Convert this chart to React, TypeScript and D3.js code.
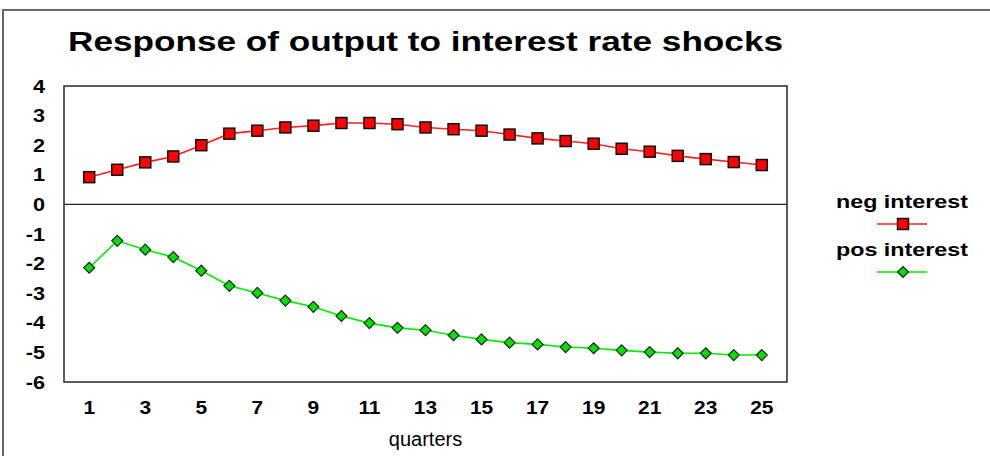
import React from "react";
import * as d3 from "d3";

const quarters: number[] = d3.range(1, 26);
const negInterest: number[] = [0.92, 1.17, 1.42, 1.62, 2.0, 2.39, 2.49, 2.6, 2.66, 2.75, 2.75, 2.71, 2.6, 2.54, 2.49, 2.36, 2.23, 2.14, 2.05, 1.88, 1.78, 1.64, 1.53, 1.43, 1.33];
const posInterest: number[] = [-2.14, -1.23, -1.53, -1.78, -2.24, -2.75, -2.99, -3.25, -3.46, -3.77, -4.01, -4.17, -4.25, -4.42, -4.56, -4.67, -4.73, -4.82, -4.86, -4.93, -4.99, -5.03, -5.03, -5.09, -5.09];
const yTicks: number[] = [4, 3, 2, 1, 0, -1, -2, -3, -4, -5, -6];
const xTickLabels: number[] = [1, 3, 5, 7, 9, 11, 13, 15, 17, 19, 21, 23, 25];
const seriesNames: string[] = ["neg interest", "pos interest"];
const title = "Response of output to interest rate shocks";
const xTitle = "quarters";

const W = 990;
const H = 456;
const PL = 64, PR = 787, PT = 86, PB = 382;
const FONT = "'Liberation Sans', Arial, sans-serif";

export default function App() {
  const x = d3.scalePoint<number>().domain(quarters).range([PL, PR]).padding(0.9);
  const y = d3.scaleLinear().domain([-6, 4]).range([PB, PT]);
  const line = d3
    .line<number>()
    .x((_, i) => x(quarters[i]) as number)
    .y((d) => y(d));

  const diamond = (cx: number, cy: number, r: number) =>
    `M${cx},${cy - r}L${cx + r},${cy}L${cx},${cy + r}L${cx - r},${cy}Z`;

  const legendItems = [
    { name: seriesNames[0], color: "#ff2020", baseline: 208, lineY: 224, kind: "square" },
    { name: seriesNames[1], color: "#00ee00", baseline: 256, lineY: 272, kind: "diamond" },
  ];

  return (
    <div style={{ position: "fixed", left: 0, top: 0 }}>
      <svg width={W} height={H} style={{ display: "block", background: "#fff" }}>
        {/* outer border */}
        <rect x={3} y={10} width={1000} height={500} fill="none" stroke="#666" strokeWidth={2} />

        {/* title */}
        <text
          x={68}
          y={51}
          fontFamily={FONT}
          fontWeight="bold"
          fontSize={27}
          textLength={715}
          lengthAdjust="spacingAndGlyphs"
          fill="#000"
        >
          {title}
        </text>

        {/* plot frame */}
        <rect x={PL} y={PT} width={PR - PL} height={PB - PT} fill="#fff" stroke="#333" strokeWidth={1.6} />
        {/* zero line */}
        <line x1={PL} x2={PR} y1={y(0)} y2={y(0)} stroke="#222" strokeWidth={1.2} />

        {/* y tick labels */}
        {yTicks.map((t) => (
          <text
            key={t}
            transform={`translate(45,${y(t) + 6.5}) scale(1.2,1)`}
            textAnchor="end"
            fontFamily={FONT}
            fontWeight="bold"
            fontSize={18}
            fill="#000"
          >
            {t < 0 ? "-" + Math.abs(t) : String(t)}
          </text>
        ))}

        {/* x tick labels */}
        {xTickLabels.map((t) => (
          <text
            key={t}
            transform={`translate(${x(t)},414) scale(1.1,1)`}
            textAnchor="middle"
            fontFamily={FONT}
            fontWeight="bold"
            fontSize={19}
            fill="#000"
          >
            {t}
          </text>
        ))}

        {/* x axis title */}
        <text x={(PL + PR) / 2} y={446} textAnchor="middle" fontFamily={FONT} fontSize={20} fill="#000">
          {xTitle}
        </text>

        {/* series lines */}
        <path d={line(negInterest) || ""} fill="none" stroke="#ff2020" strokeWidth={1.6} />
        <path d={line(posInterest) || ""} fill="none" stroke="#00ee00" strokeWidth={1.6} />

        {/* markers */}
        {negInterest.map((v, i) => (
          <rect
            key={"n" + i}
            x={(x(quarters[i]) as number) - 5.5}
            y={y(v) - 5.5}
            width={11}
            height={11}
            fill="#ff0000"
            stroke="#111"
            strokeWidth={1.5}
          />
        ))}
        {posInterest.map((v, i) => (
          <path
            key={"p" + i}
            d={diamond(x(quarters[i]) as number, y(v), 5.5)}
            fill="#00e000"
            stroke="#222"
            strokeWidth={1.2}
          />
        ))}

        {/* legend */}
        {legendItems.map((it) => (
          <g key={it.name}>
            <text
              x={836}
              y={it.baseline}
              fontFamily={FONT}
              fontWeight="bold"
              fontSize={19}
              textLength={132}
              lengthAdjust="spacingAndGlyphs"
              fill="#000"
            >
              {it.name}
            </text>
            <line x1={877} x2={927} y1={it.lineY} y2={it.lineY} stroke={it.color} strokeWidth={1.6} />
            {it.kind === "square" ? (
              <rect x={903 - 5.5} y={it.lineY - 5.5} width={11} height={11} fill="#ff0000" stroke="#111" strokeWidth={1.5} />
            ) : (
              <path d={diamond(903, it.lineY, 5.5)} fill="#00e000" stroke="#222" strokeWidth={1.2} />
            )}
          </g>
        ))}
      </svg>
    </div>
  );
}
